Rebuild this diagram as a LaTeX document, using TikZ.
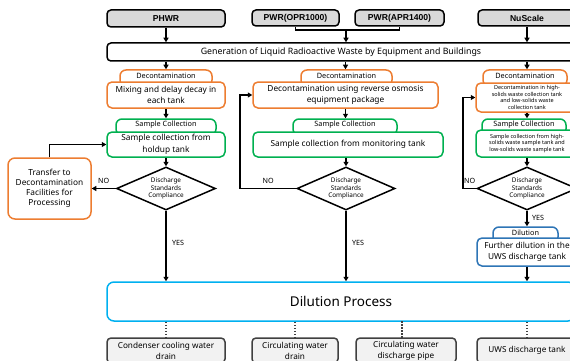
\documentclass[tikz,border=0pt]{standalone}
\usepackage{fontspec}
\setmainfont{Noto Sans}
\newfontfamily\hdrfont{Liberation Sans}
\usetikzlibrary{shapes.geometric,arrows.meta}
\definecolor{ora}{HTML}{ED7D31}
\definecolor{grn}{HTML}{00B050}
\definecolor{lblue}{HTML}{00B0F0}
\definecolor{dblue}{HTML}{2E75B6}
\definecolor{hdrgray}{HTML}{D9D9D9}
\definecolor{botgray}{HTML}{F2F2F2}
\definecolor{botline}{HTML}{404040}
\tikzset{
  base/.style={line width=1.5pt, rounded corners=4pt, align=center, inner sep=1pt, font=\fontsize{8.3}{11.5}\selectfont},
  hdr/.style={base, draw=black, fill=hdrgray, font=\hdrfont\bfseries\fontsize{8.6}{10}\selectfont},
  genbox/.style={base, draw=black, fill=white, font=\fontsize{8.8}{10}\selectfont},
  obox/.style={base, draw=ora, fill=white, rounded corners=5pt},
  gbox/.style={base, draw=grn, fill=white, rounded corners=5pt},
  bbox/.style={base, draw=dblue, fill=white, rounded corners=5pt},
  tabbox/.style={line width=1.5pt, fill=white, rounded corners=6pt, minimum height=16pt, inner sep=0pt},
  tabtxt/.style={font=\fontsize{7.3}{8}\selectfont, yshift=2pt},
  small/.style={font=\fontsize{5.5}{6.6}\selectfont},
  dia/.style={diamond, draw=black, line width=1.5pt, fill=white, inner sep=0pt},
  diatxt/.style={font=\fontsize{6.4}{7.8}\selectfont, align=center},
  yn/.style={font=\fontsize{7.2}{8}\selectfont},
  arr/.style={-{Triangle[length=4.5pt,width=5pt]}, line width=1.6pt},
  ln/.style={line width=1.6pt},
  dots/.style={line width=1.5pt, dash pattern=on 1.5pt off 1.5pt, draw=botline},
  botbox/.style={base, draw=botline, fill=botgray, rounded corners=4pt, font=\fontsize{8.2}{11}\selectfont},
}
\begin{document}
\begin{tikzpicture}[x=1pt,y=-1pt]
\useasboundingbox (0,0) rectangle (570,361);
\clip (0,0) rectangle (570,361);
% headers
\node[hdr, minimum width=118pt, minimum height=17pt] (phwr) at (166,18.5) {PHWR};
\node[hdr, minimum width=87pt, minimum height=16pt] (opr) at (295.5,18) {PWR(OPR1000)};
\node[hdr, minimum width=89pt, minimum height=16pt] (apr) at (399.5,18) {PWR(APR1400)};
\node[hdr, minimum width=98pt, minimum height=16pt] (nus) at (527,18) {NuScale};
\node[genbox, minimum width=468pt, minimum height=18pt] (gen) at (341,52) {Generation of Liquid Radioactive Waste by Equipment and Buildings};
% tabs
\node[tabbox, draw=ora, minimum width=92pt, label={[tabtxt]center:Decontamination}] (ltab1) at (166,78) {};
\node[tabbox, draw=ora, minimum width=91pt, label={[tabtxt]center:Decontamination}] (mtab1) at (346.5,78) {};
\node[tabbox, draw=ora, minimum width=84pt, label={[tabtxt]center:Decontamination}] (rtab1) at (525,78) {};
\node[tabbox, draw=grn, minimum width=100pt, label={[tabtxt]center:Sample Collection}] (ltab2) at (166,127) {};
\node[tabbox, draw=grn, minimum width=104pt, label={[tabtxt]center:Sample Collection}] (mtab2) at (345,127) {};
\node[tabbox, draw=grn, minimum width=84pt, label={[tabtxt]center:Sample Collection}] (rtab2) at (524,127) {};
\node[tabbox, draw=dblue, minimum width=65pt, label={[tabtxt]center:Dilution}] (rtab3) at (525.5,235) {};
% main boxes
\node[obox, minimum width=118pt, minimum height=26pt] (ldec) at (166,95) {Mixing and delay decay in\\each tank};
\node[obox, minimum width=185pt, minimum height=26pt] (mdec) at (345.5,95) {Decontamination using reverse osmosis\\equipment package};
\node[obox, minimum width=102pt, minimum height=29pt, small] (rdec) at (527,97.5) {Decontamination in high-\\solids waste collection tank\\and low-solids waste\\collection tank};
\node[gbox, minimum width=118pt, minimum height=25pt] (lsam) at (166,144.5) {Sample collection from\\holdup tank};
\node[gbox, minimum width=190pt, minimum height=25pt] (msam) at (348,144.5) {Sample collection from monitoring tank};
\node[gbox, minimum width=102pt, minimum height=27pt, small] (rsam) at (527,143.5) {Sample collection from high-\\solids waste sample tank and\\low-solids waste sample tank};
% diamonds
\node[dia, minimum width=99pt, minimum height=43pt, label={[diatxt]center:Discharge\\Standards\\Compliance}] (ldia) at (166,188.5) {};
\node[dia, minimum width=98pt, minimum height=43pt, label={[diatxt]center:Discharge\\Standards\\Compliance}] (mdia) at (346,188.5) {};
\node[dia, minimum width=100pt, minimum height=43pt, label={[diatxt]center:Discharge\\Standards\\Compliance}] (rdia) at (527,188.5) {};
\node[obox, minimum width=83pt, minimum height=61pt, rounded corners=7pt, font=\fontsize{8.3}{10.2}\selectfont] (trans) at (49.5,188.5) {Transfer to\\Decontamination\\Facilities for\\Processing};
\node[bbox, minimum width=100pt, minimum height=28pt] (rdil) at (527,252) {Further dilution in the\\UWS discharge tank};
\node[base, draw=lblue, fill=white, rounded corners=7pt, minimum width=468pt, minimum height=39pt, font=\fontsize{13.5}{15}\selectfont] (dil) at (341,301.5) {Dilution Process};
% bottom boxes
\node[botbox, minimum width=118pt, minimum height=25pt] (b1) at (166,350.5) {Condenser cooling water\\drain};
\node[botbox, minimum width=86pt, minimum height=25pt] (b2) at (295,350.5) {Circulating water\\drain};
\node[botbox, minimum width=100pt, minimum height=25pt] (b3) at (406,350.5) {Circulating water\\discharge pipe};
\node[botbox, minimum width=100pt, minimum height=25pt] (b4) at (527,350.5) {UWS discharge tank};
% connectors top
\coordinate (pj) at (346,30);
\draw[arr] (phwr.south) -- (phwr.south |- gen.north);
\draw[ln] (opr.south) |- (pj) -| (apr.south);
\draw[arr] (pj) -- (pj |- gen.north);
\draw[arr] (nus.south) -- (nus.south |- gen.north);
\draw[arr] (gen.south -| ltab1.north) -- (ltab1.north);
\draw[arr] (gen.south -| mdec.north) -- (mtab1.north -| mdec.north);
\draw[arr] (gen.south -| nus.south) -- (rtab1.north -| nus.south);
\draw[arr] (ldec.south) -- (ltab2.north);
\draw[arr] (mdec.south) -- (mtab2.north -| mdec.south);
\draw[arr] (rdec.south) -- (rtab2.north -| rdec.south);
\draw[arr] (lsam.south) -- (ldia.north);
\draw[arr] (msam.south -| mdia.north) -- (mdia.north);
\draw[arr] (rsam.south) -- (rdia.north);
% NO branches
\draw[arr] (ldia.west) -- node[yn, above, pos=0.5, yshift=1pt] {NO} (trans.east);
\draw[arr] (trans.north) |- (lsam.west);
\coordinate (mno) at (240,188.5);
\draw[arr] (mdia.west) -- node[yn, above, pos=0.5, yshift=1pt] {NO} (mno) |- (mdec.west);
\coordinate (rno) at (463,188.5);
\draw[arr] (rdia.west) -- node[yn, above, pos=0.5, yshift=1pt] {NO} (rno) |- (rdec.west);
% YES branches
\draw[arr] (ldia.south) -- node[yn, right, pos=0.45, xshift=2pt] {YES} (ldia.south |- dil.north);
\draw[arr] (mdia.south) -- node[yn, right, pos=0.45, xshift=2pt] {YES} (mdia.south |- dil.north);
\draw[arr] (rdia.south) -- node[yn, right, pos=0.45, xshift=1pt] {YES} (rtab3.north -| rdia.south);
\draw[arr] (rdil.south) -- (rdil.south |- dil.north);
% dotted
\draw[dots] (dil.south -| b1.north) -- (b1.north);
\draw[dots] (dil.south -| b2.north) -- (b2.north);
\draw[dots] (402,321) -- (402,338);
\draw[dots] (dil.south -| b4.north) -- (b4.north);
\end{tikzpicture}
\end{document}
